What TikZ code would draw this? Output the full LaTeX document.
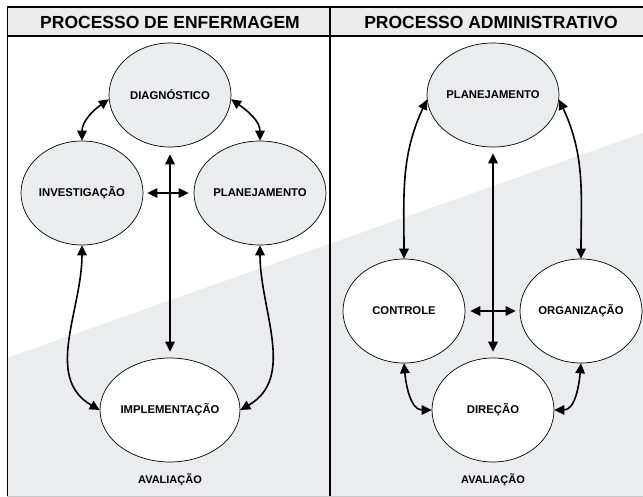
\documentclass[tikz,border=0pt]{standalone}
\usepackage{fontspec}
\setmainfont{Liberation Sans}
\usetikzlibrary{shapes.geometric,arrows.meta}
\definecolor{bggray}{HTML}{EBECEE}
\definecolor{hdrgray}{HTML}{EBEBEB}
\definecolor{lowline}{HTML}{C8C8C8}
\tikzset{
  proc/.style={ellipse,draw=black,line width=0.7pt,minimum width=122pt,minimum height=104pt,inner sep=0pt,font=\fontsize{11.3}{13}\selectfont\bfseries},
  grayproc/.style={proc,fill=bggray},
  whiteproc/.style={proc,fill=white},
  link/.style={line width=1.6pt,{Triangle[length=10pt,width=9.5pt]}-{Triangle[length=10pt,width=9.5pt]}},
  hdr/.style={font=\fontsize{17.5}{20}\selectfont\bfseries,inner sep=0pt},
  evalt/.style={font=\fontsize{11}{13}\selectfont\bfseries,inner sep=0pt},
  frame/.style={line width=1.5pt,black}
}
\begin{document}
\begin{tikzpicture}[x=1pt,y=-1pt]
\useasboundingbox (0,0) rectangle (643,497);
% backgrounds
\fill[white] (0,0) rectangle (643,497);
\fill[hdrgray] (7,7) rectangle (643,36);
\fill[bggray] (7,358) -- (643,133) -- (643,496) -- (7,496) -- cycle;
\draw[lowline,line width=1pt] (7,496) -- (643,496);
% frame lines
\draw[frame] (7,7) -- (643,7);
\draw[frame] (7,36) -- (643,36);
\draw[frame] (7.5,6.25) -- (7.5,496);
\draw[frame] (330,7) -- (330,496);
% headers
\node[hdr] (h1) at (170,22) {PROCESSO DE ENFERMAGEM};
\node[hdr] (h2) at (491,22) {PROCESSO ADMINISTRATIVO};
% left panel
\node[grayproc] (diag) at (170,95) {DIAGNÓSTICO};
\node[grayproc] (inv) at (82,193) {INVESTIGAÇÃO};
\node[grayproc] (plan) at (260,193) {PLANEJAMENTO};
\node[whiteproc] (impl) at (170,410) {IMPLEMENTAÇÃO};
\node[evalt] (av1) at (170,480) {AVALIAÇÃO};
\draw[link] (diag.184) to[out=215,in=90] (inv.north);
\draw[link] (diag.356) to[out=-35,in=90] (plan.north);
\draw[link] (inv.south) to[out=-90,in=150] (impl.west);
\draw[link] (plan.south) to[out=-90,in=30] (impl.east);
\draw[link,shorten <=7pt,shorten >=6pt] (diag.south) -- (impl.north);
\draw[link,shorten <=4pt,shorten >=5pt] (inv.east) -- (plan.west);
% right panel
\node[grayproc] (pl2) at (493,95) {PLANEJAMENTO};
\node[whiteproc] (ctrl) at (404,311) {CONTROLE};
\node[whiteproc] (org) at (581,311) {ORGANIZAÇÃO};
\node[whiteproc] (dir) at (493,410) {DIREÇÃO};
\node[evalt] (av2) at (493,480) {AVALIAÇÃO};
\draw[link] (pl2.184) to[out=245,in=90] (ctrl.north);
\draw[link] (pl2.356) to[out=-65,in=90] (org.north);
\draw[link] (ctrl.south) to[out=-85,in=180] (dir.west);
\draw[link] (org.south) to[out=-95,in=0] (dir.east);
\draw[link,shorten <=6pt,shorten >=6pt] (pl2.south) -- (dir.north);
\draw[link,shorten <=5pt,shorten >=4pt] (ctrl.east) -- (org.west);
\end{tikzpicture}
\end{document}
